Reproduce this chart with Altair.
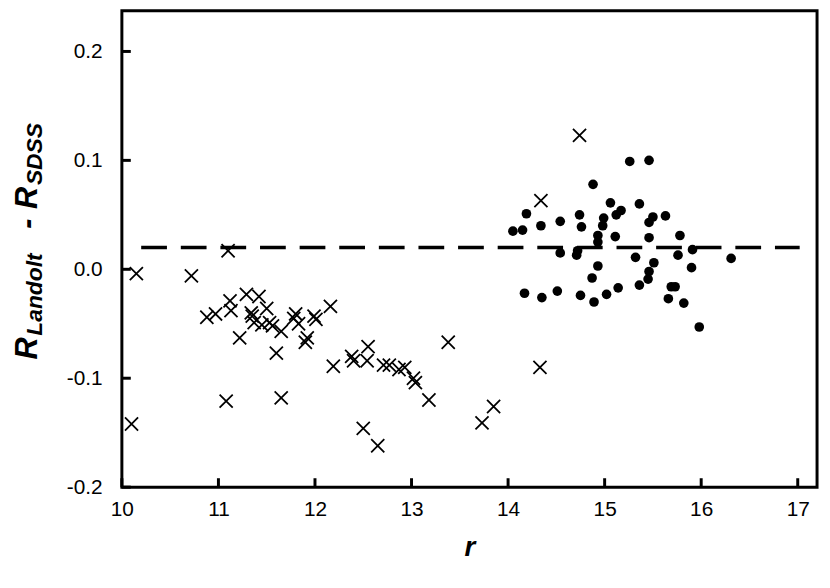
import altair as alt
import pandas as pd

# ---- data ----
cross_r = [10.10, 10.15, 10.72, 10.88, 10.97, 11.08, 11.10, 11.12, 11.13, 11.22,
           11.29, 11.34, 11.35, 11.37, 11.42, 11.45, 11.50, 11.53, 11.56, 11.60,
           11.65, 11.65, 11.78, 11.80, 11.83, 11.90, 11.92, 11.99, 12.01, 12.16,
           12.19, 12.38, 12.40, 12.50, 12.54, 12.55, 12.65, 12.71, 12.77, 12.87,
           12.93, 13.02, 13.04, 13.18, 13.38, 13.73, 13.85, 14.34, 14.33, 14.74]
cross_d = [-0.142, -0.004, -0.006, -0.044, -0.041, -0.121, 0.017, -0.029, -0.038, -0.063,
           -0.023, -0.040, -0.043, -0.049, -0.025, -0.051, -0.036, -0.049, -0.052, -0.077,
           -0.057, -0.118, -0.045, -0.041, -0.050, -0.067, -0.063, -0.043, -0.046, -0.034,
           -0.089, -0.080, -0.084, -0.146, -0.084, -0.071, -0.162, -0.088, -0.088, -0.092,
           -0.090, -0.100, -0.104, -0.120, -0.067, -0.141, -0.126, 0.063, -0.090, 0.123]

dot_r = [14.05, 14.15, 14.19, 14.17, 14.34, 14.35, 14.51, 14.54, 14.54, 14.71,
         14.72, 14.74, 14.75, 14.76, 14.87, 14.88, 14.89, 14.93, 14.93, 14.93,
         14.98, 14.99, 15.02, 15.06, 15.11, 15.12, 15.14, 15.17, 15.26, 15.32,
         15.36, 15.36, 15.45, 15.46, 15.46, 15.46, 15.46, 15.50, 15.51, 15.63,
         15.66, 15.69, 15.73, 15.76, 15.78, 15.82, 15.90, 15.91, 15.98, 16.31]
dot_d = [0.035, 0.036, 0.051, -0.022, 0.040, -0.026, -0.020, 0.044, 0.015, 0.013,
         0.017, 0.050, -0.024, 0.039, -0.008, 0.078, -0.030, 0.031, 0.025, 0.003,
         0.040, 0.047, -0.023, 0.061, 0.030, 0.050, -0.017, 0.054, 0.099, 0.011,
         0.060, -0.0145, -0.009, -0.002, 0.029, 0.043, 0.100, 0.048, 0.006, 0.049,
         -0.027, -0.016, -0.016, 0.013, 0.031, -0.031, 0.0015, 0.018, -0.053, 0.010]

x_ticks = [10, 11, 12, 13, 14, 15, 16, 17]
y_ticks = [-0.2, -0.1, 0.0, 0.1, 0.2]
offset_level = [0.02]
offset_start = [10.2]
offset_end = [17.02]

# ---- layout ----
W, H = 702, 481
FONT = "Liberation Sans"
xs = alt.Scale(domain=[10, 17.2], nice=False, zero=False)
ys = alt.Scale(domain=[-0.2, 0.2373], nice=False, zero=False)

crosses = pd.DataFrame({"r": cross_r, "d": cross_d})
dots = pd.DataFrame({"r": dot_r, "d": dot_d})
xt = pd.DataFrame({"r": x_ticks})
yt = pd.DataFrame({"d": y_ticks})
off = pd.DataFrame({"d": offset_level, "r": offset_start, "r2": offset_end})

xaxis = alt.Axis(values=x_ticks, tickSize=0, domain=False, grid=False, labelFlush=False,
                 labelFont=FONT, labelFontSize=21, labelColor="black", labelPadding=12,
                 title="r", titleFont=FONT, titleFontSize=28, titleFontStyle="italic",
                 titleFontWeight="bold", titleColor="black", titlePadding=14)
yaxis = alt.Axis(values=y_ticks, tickSize=0, domain=False, grid=False, labelFlush=False,
                 labelFont=FONT, labelFontSize=21, labelColor="black", labelPadding=20,
                 labelExpr="datum.value < 0 ? '-' + format(-datum.value, '.1f') : format(datum.value, '.1f')",
                 title=None)

X = alt.X("r:Q", scale=xs, axis=xaxis, title="r")
Y = alt.Y("d:Q", scale=ys, axis=yaxis, title=None)

cross_layer = alt.Chart(crosses).mark_point(
    shape="M-1,-1L1,1M-1,1L1,-1", filled=False, stroke="black", strokeWidth=1.8,
    size=175, opacity=1
).encode(x=X, y=Y)

dot_layer = alt.Chart(dots).mark_point(
    shape="circle", filled=True, fill="black", stroke="black", strokeWidth=0,
    size=95, opacity=1
).encode(x=X, y=Y)

dash_layer = alt.Chart(off).mark_rule(
    color="black", strokeWidth=3.5, strokeDash=[26, 14]
).encode(x=X, x2="r2:Q", y=Y)

xtick_layer = alt.Chart(xt).mark_rule(color="black", strokeWidth=3).encode(
    x=X, y=alt.value(H), y2=alt.value(H - 9))
ytick_layer = alt.Chart(yt).mark_rule(color="black", strokeWidth=3).encode(
    y=Y, x=alt.value(0), x2=alt.value(9))

# y-axis title with subscripts (rotated text pieces)
title_parts = [
    ("R", 31, 360, 37),
    ("Landolt", 23, 336, 42),
    ("-", 31, 228, 37),
    ("R", 31, 208, 37),
    ("SDSS", 23, 184, 42),
]
title_layers = []
for txt, fs, ya, xa in title_parts:
    title_layers.append(
        alt.Chart(pd.DataFrame({"t": [txt]})).mark_text(
            text=txt, font=FONT, fontSize=fs, fontStyle="italic", fontWeight="bold",
            angle=270, align="left", baseline="alphabetic", color="black"
        ).encode(x=alt.value(xa - 123), y=alt.value(ya - 8))
    )

chart = alt.layer(
    dash_layer, cross_layer, dot_layer, xtick_layer, ytick_layer, *title_layers
).properties(
    width=W, height=H,
    background="white",
    autosize=alt.AutoSizeParams(type="none"),
    padding={"left": 115, "top": 0, "right": 5, "bottom": 99},
).configure_view(stroke="black", strokeWidth=3, fill="white")

chart.save("out.html", embed_options={"renderer": "svg", "actions": False})
